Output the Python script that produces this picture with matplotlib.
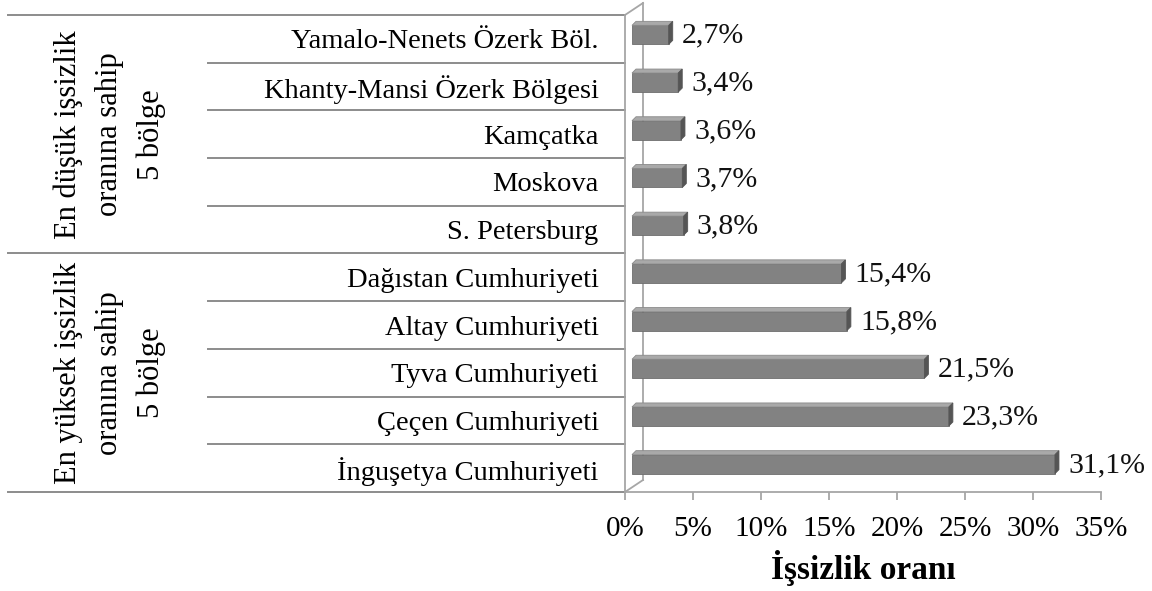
import numpy as np
import matplotlib
matplotlib.use("Agg")
import matplotlib.pyplot as plt
from matplotlib.patches import Polygon, Rectangle

plt.rcParams['font.family'] = ['Liberation Serif', 'DejaVu Serif']

regions = ['Yamalo-Nenets Özerk Böl.', 'Khanty-Mansi Özerk Bölgesi', 'Kamçatka',
           'Moskova', 'S. Petersburg', 'Dağıstan Cumhuriyeti', 'Altay Cumhuriyeti',
           'Tyva Cumhuriyeti', 'Çeçen Cumhuriyeti', 'İnguşetya Cumhuriyeti']
rates = [2.7, 3.4, 3.6, 3.7, 3.8, 15.4, 15.8, 21.5, 23.3, 31.1]
groups = ['En düşük işsizlik\noranına sahip\n5 bölge',
          'En yüksek işsizlik\noranına sahip\n5 bölge']
xticks = [0, 5, 10, 15, 20, 25, 30, 35]

W, H = 1152, 591
fig = plt.figure(figsize=(W / 100, H / 100), dpi=100)
L, R, T, B = 625, 1101, 15, 492
ax = fig.add_axes([L / W, (H - B) / H, (R - L) / W, (B - T) / H])

n = len(regions)
ax.set_xlim(0, 35)
ax.set_ylim(n - 0.5, -0.5)

pxx = (R - L) / 35.0      # pixels per percent
pxy = (B - T) / n         # pixels per row

wall = '#a6a6a6'
for s in ['top', 'right']:
    ax.spines[s].set_visible(False)
ax.spines['left'].set_color(wall)
ax.spines['bottom'].set_color(wall)
ax.spines['left'].set_linewidth(1.3)
ax.spines['bottom'].set_linewidth(1.3)

# back wall of the 3D plot
dxw, dyw = 18 / pxx, 12 / pxy
ax.plot([0, dxw], [-0.5, -0.5 - dyw], color=wall, lw=1.3, clip_on=False)
ax.plot([0, dxw], [n - 0.5, n - 0.5 - dyw], color=wall, lw=1.3, clip_on=False)
ax.plot([dxw, dxw], [-0.5 - dyw, n - 0.5 - dyw], color=wall, lw=1.3, clip_on=False)

# 3D bars
h = 19 / pxy
x0 = 7 / pxx
shift = 4 / pxy
d, dd = 4 / pxx, 4 / pxy
for i, v in enumerate(rates):
    top = i - h / 2 - shift
    bot = i + h / 2 - shift
    x1 = v + x0
    ax.add_patch(Rectangle((x0, top), v, h, facecolor='#828282',
                           edgecolor='#6e6e6e', lw=0.6, clip_on=False, zorder=3))
    ax.add_patch(Polygon([(x0, top), (x1, top), (x1 + d, top - dd), (x0 + d, top - dd)],
                         closed=True, facecolor='#a9a9a9', edgecolor='#8a8a8a',
                         lw=0.6, clip_on=False, zorder=3))
    ax.add_patch(Polygon([(x1, top), (x1 + d, top - dd), (x1 + d, bot - dd), (x1, bot)],
                         closed=True, facecolor='#555555', edgecolor='#555555',
                         lw=0.6, clip_on=False, zorder=3))
    ax.text(x1 + 13 / pxx, i - 3 / pxy, f'{v:.1f}'.replace('.', ',') + '%',
            fontsize=21.5, va='center', ha='left', color='#111111')

# table on the left
ax.set_yticks(range(n))
ax.set_yticklabels(regions, fontsize=20.5)
ax.tick_params(axis='y', length=0, pad=19)

line = '#8c8c8c'
x_cat = -(L - 208) / pxx
x_grp = -(L - 8) / pxx
for yb in [0.5, 1.5, 2.5, 3.5, 5.5, 6.5, 7.5, 8.5]:
    ax.plot([x_cat, 0], [yb, yb], color=line, lw=1.4, clip_on=False)
for yb in [-0.5, 4.5, n - 0.5]:
    ax.plot([x_grp, 0], [yb, yb], color=line, lw=1.4, clip_on=False)

x_lab = -(L - 110) / pxx
for g, label in enumerate(groups):
    ax.text(x_lab, 2 + 5 * g, label, rotation=90, fontsize=22, ha='center',
            va='center', multialignment='center', linespacing=1.55)

# x axis
ax.set_xticks(xticks)
ax.set_xticklabels([f'{t}%' for t in xticks], fontsize=21)
ax.tick_params(axis='x', length=6, color=wall, width=1.3, pad=11)
ax.set_xlabel('İşsizlik oranı', fontsize=24, fontweight='bold', labelpad=6)

fig.savefig('out.png', dpi=100)
